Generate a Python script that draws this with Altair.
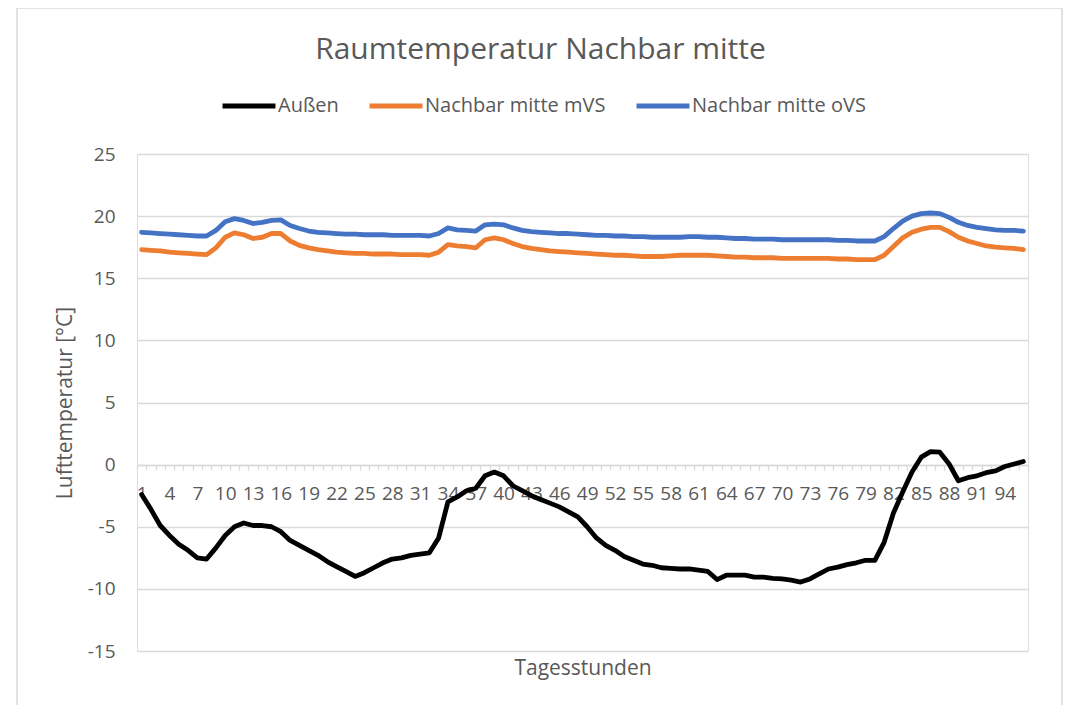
import altair as alt
import pandas as pd

hours = list(range(1, 97))

aussen = [-2.4, -3.6, -4.9, -5.7, -6.4, -6.9, -7.5, -7.6, -6.7, -5.7,
          -5.0, -4.7, -4.9, -4.9, -5.0, -5.4, -6.1, -6.5, -6.9, -7.3,
          -7.8, -8.2, -8.6, -9.0, -8.7, -8.3, -7.9, -7.6, -7.5, -7.3,
          -7.2, -7.1, -5.9, -3.0, -2.6, -2.1, -1.9, -0.9, -0.6, -0.9,
          -1.7, -2.1, -2.5, -2.8, -3.1, -3.4, -3.8, -4.2, -5.0, -5.9,
          -6.5, -6.9, -7.4, -7.7, -8.0, -8.1, -8.3, -8.35, -8.4, -8.4,
          -8.5, -8.6, -9.25, -8.9, -8.9, -8.9, -9.05, -9.05, -9.15, -9.2,
          -9.3, -9.45, -9.2, -8.8, -8.4, -8.25, -8.05, -7.9, -7.7, -7.7,
          -6.25, -3.9, -2.2, -0.6, 0.6, 1.05, 1.0, 0.05, -1.3, -1.05,
          -0.9, -0.65, -0.5, -0.15, 0.05, 0.25]

mvs = [17.3, 17.25, 17.2, 17.1, 17.05, 17.0, 16.95, 16.9, 17.45, 18.3,
       18.65, 18.5, 18.2, 18.3, 18.6, 18.6, 18.0, 17.65, 17.45, 17.3,
       17.2, 17.1, 17.05, 17.0, 17.0, 16.95, 16.95, 16.95, 16.9, 16.9,
       16.9, 16.85, 17.1, 17.7, 17.6, 17.55, 17.45, 18.1, 18.25, 18.1,
       17.8, 17.55, 17.4, 17.3, 17.2, 17.15, 17.1, 17.05, 17.0, 16.95,
       16.9, 16.85, 16.85, 16.8, 16.75, 16.75, 16.75, 16.8, 16.85, 16.85,
       16.85, 16.85, 16.8, 16.75, 16.7, 16.7, 16.65, 16.65, 16.65, 16.6,
       16.6, 16.6, 16.6, 16.6, 16.6, 16.55, 16.55, 16.5, 16.5, 16.5,
       16.85, 17.55, 18.25, 18.7, 18.95, 19.1, 19.1, 18.75, 18.3, 18.0,
       17.8, 17.6, 17.5, 17.45, 17.4, 17.3]

ovs = [18.7, 18.65, 18.6, 18.55, 18.5, 18.45, 18.4, 18.4, 18.85, 19.55,
       19.8, 19.65, 19.4, 19.5, 19.65, 19.7, 19.25, 19.0, 18.8, 18.7,
       18.65, 18.6, 18.55, 18.55, 18.5, 18.5, 18.5, 18.45, 18.45, 18.45,
       18.45, 18.4, 18.6, 19.05, 18.9, 18.85, 18.8, 19.3, 19.35, 19.3,
       19.05, 18.85, 18.75, 18.7, 18.65, 18.6, 18.6, 18.55, 18.5, 18.45,
       18.45, 18.4, 18.4, 18.35, 18.35, 18.3, 18.3, 18.3, 18.3, 18.35,
       18.35, 18.3, 18.3, 18.25, 18.2, 18.2, 18.15, 18.15, 18.15, 18.1,
       18.1, 18.1, 18.1, 18.1, 18.1, 18.05, 18.05, 18.0, 18.0, 18.0,
       18.35, 19.0, 19.6, 20.0, 20.2, 20.25, 20.2, 19.9, 19.5, 19.25,
       19.1, 19.0, 18.9, 18.85, 18.85, 18.8]

series_names = ["Außen", "Nachbar mitte mVS", "Nachbar mitte oVS"]
series_colors = ["#000000", "#ED7D31", "#4472C4"]
y_ticks = [-15, -10, -5, 0, 5, 10, 15, 20, 25]

df = pd.DataFrame({"Stunde": hours, series_names[0]: aussen,
                   series_names[1]: mvs, series_names[2]: ovs})
long = df.melt("Stunde", var_name="Serie", value_name="Temp")
long["order"] = long["Serie"].map({n: i for i, n in enumerate(series_names)})

FONT = "Open Sans"
GREY = "#595959"
GRID = "#d9d9d9"

lines = alt.Chart(long).mark_line(strokeWidth=4.8, strokeCap="round", strokeJoin="round").encode(
    x=alt.X("Stunde:O", bandPosition=0.5,
            scale=alt.Scale(type="band", paddingInner=0, paddingOuter=0),
            axis=alt.Axis(title="Tagesstunden", titleFont=FONT, titleFontSize=21,
                          titleFontWeight="normal", titleColor=GREY, titleY=192,
                          labelExpr="(datum.value - 1) % 3 == 0 ? datum.label : ''",
                          labelAngle=0, labelOverlap=False, labelFont=FONT,
                          labelFontSize=19, labelColor=GREY, labelPadding=14,
                          tickBand="extent", tickColor=GRID, tickSize=5, tickWidth=1.3,
                          domainColor=GRID, domainWidth=1.3, grid=False, offset=-186)),
    y=alt.Y("Temp:Q", scale=alt.Scale(domain=[-15, 25], nice=False, zero=False),
            axis=alt.Axis(title="Lufttemperatur [°C]", values=y_ticks, titleFont=FONT,
                          titleFontSize=21, titleFontWeight="normal", titleColor=GREY,
                          titlePadding=12, labelFont=FONT, labelFontSize=19,
                          labelExpr="'' + datum.value",
                          labelColor=GREY, labelPadding=22, ticks=False, domain=False,
                          grid=True, gridColor=GRID, gridWidth=1.3)),
    color=alt.Color("Serie:N", scale=alt.Scale(domain=series_names, range=series_colors),
                    legend=alt.Legend(title=None, orient="none", direction="horizontal",
                                      legendX=83, legendY=-77, symbolType="stroke",
                                      symbolSize=2800, symbolStrokeWidth=4.8,
                                      labelFont=FONT, labelFontSize=20, labelColor=GREY,
                                      labelLimit=400, labelOffset=0, columnPadding=20)),
    order=alt.Order("order:Q"),
    detail="Serie:N",
)

border = alt.Chart(pd.DataFrame({"a": [0]})).mark_rect(
    filled=False, stroke=GRID, strokeWidth=1.5).encode(
    x=alt.value(-120), x2=alt.value(925), y=alt.value(-146), y2=alt.value(620))

chart = alt.layer(border, lines).properties(
    width=891, height=497,
    padding={"left": 129, "top": 146, "right": 36, "bottom": 54},
    autosize=alt.AutoSizeParams(type="none"),
    title=alt.Title("Raumtemperatur Nachbar mitte", font=FONT, fontSize=30,
                    fontWeight="normal", color=GREY, anchor="middle", dx=-42,
                    offset=-82, baseline="alphabetic", frame="group"),
).configure_view(stroke=None).configure(background="white")

chart.save("out.html", embed_options={"renderer": "svg", "actions": False})
